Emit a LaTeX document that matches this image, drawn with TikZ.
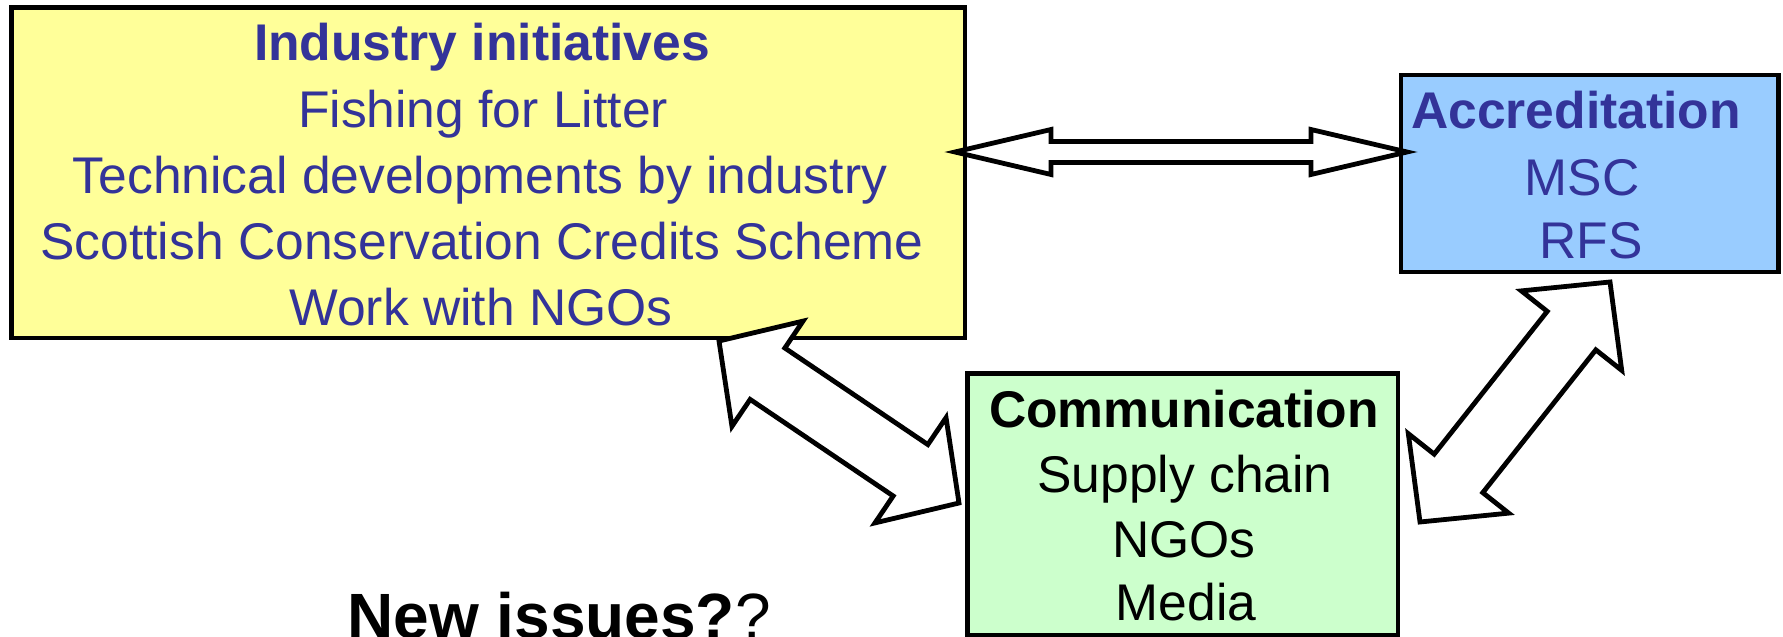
\documentclass[tikz,border=0pt]{standalone}
\usepackage{fontspec}
\setmainfont{Liberation Sans}
\usetikzlibrary{calc}
\definecolor{boxyellow}{HTML}{FFFF99}
\definecolor{boxblue}{HTML}{99CCFF}
\definecolor{boxgreen}{HTML}{CCFFCC}
\definecolor{navytext}{HTML}{333399}
% #1 tip a, #2 tip b, #3 head length, #4 head half width, #5 shaft half width
\newcommand{\blockarr}[5]{%
  \path ($(#1)!#3!(#2)$) coordinate (ha) ($(#2)!#3!(#1)$) coordinate (hb);
  \draw[blockarrow] (#1) -- ($(ha)!#4!90:(#2)$) -- ($(ha)!#5!90:(#2)$)
    -- ($(hb)!#5!-90:(#1)$) -- ($(hb)!#4!-90:(#1)$) -- (#2)
    -- ($(hb)!#4!90:(#1)$) -- ($(hb)!#5!90:(#1)$)
    -- ($(ha)!#5!-90:(#2)$) -- ($(ha)!#4!-90:(#2)$) -- cycle;
}
\begin{document}
\begin{tikzpicture}[x=0.5pt,y=-0.5pt,
  panel/.style={draw=black, line width=2.2pt, inner sep=0pt, outer sep=0pt},
  blockarrow/.style={draw=black, fill=white, line width=2.4pt, line join=miter, miter limit=10},
  txt/.style={anchor=base, inner sep=0pt, font=\fontsize{25.8pt}{31pt}\selectfont},
  ttl/.style={anchor=base, inner sep=0pt, font=\fontsize{25.8pt}{31pt}\selectfont\bfseries},
  navy/.style={text=navytext},
]
\useasboundingbox (0,0) rectangle (1783,637);
\fill[white] (0,0) rectangle (1783,637);

% boxes
\node[panel, fill=boxyellow, minimum width=476.75pt, minimum height=165.35pt] (ind) at (488.25,172.65) {};
\node[panel, fill=boxblue, minimum width=188.8pt, minimum height=98.35pt] (acc) at (1589.5,173.35) {};
\node[panel, fill=boxgreen, minimum width=215.25pt, minimum height=131pt] (com) at (1182.75,504.5) {};

% block arrows
\coordinate (hl) at (955,152);  \coordinate (hr) at (1407,152);
\coordinate (la) at (719,341);  \coordinate (lb) at (959,503);
\coordinate (ru) at (1610,282); \coordinate (rl) at (1420,522);
\blockarr{hl}{hr}{48pt}{11.25pt}{5.25pt}
\blockarr{la}{lb}{29.25pt}{31.75pt}{15.5pt}
\blockarr{ru}{rl}{31pt}{32pt}{15.5pt}

% industry text
\node[ttl, navy] (i1) at (482,60) {Industry initiatives};
\node[txt, navy] (i2) at (483,127) {Fishing for Litter};
\node[txt, navy] (i3) at (480,193) {Technical developments by industry};
\node[txt, navy] (i4) at (482,259) {Scottish Conservation Credits Scheme};
\node[txt, navy] (i5) at (481,325) {Work with NGOs};

% accreditation text
\node[ttl, navy] (a1) at (1576,128) {Accreditation};
\node[txt, navy] (a2) at (1582,195) {MSC};
\node[txt, navy] (a3) at (1591,258) {RFS};

% communication text
\node[ttl] (c1) at (1184,427) {Communication};
\node[txt] (c2) at (1185,492) {Supply chain};
\node[txt] (c3) at (1184,557) {NGOs};
\node[txt] (c4) at (1186,620) {Media};

% new issues
\node[anchor=base west, inner sep=0pt, font=\fontsize{32pt}{38pt}\selectfont] (ni) at (347,638) {\textbf{New issues?}?};
\end{tikzpicture}
\end{document}
